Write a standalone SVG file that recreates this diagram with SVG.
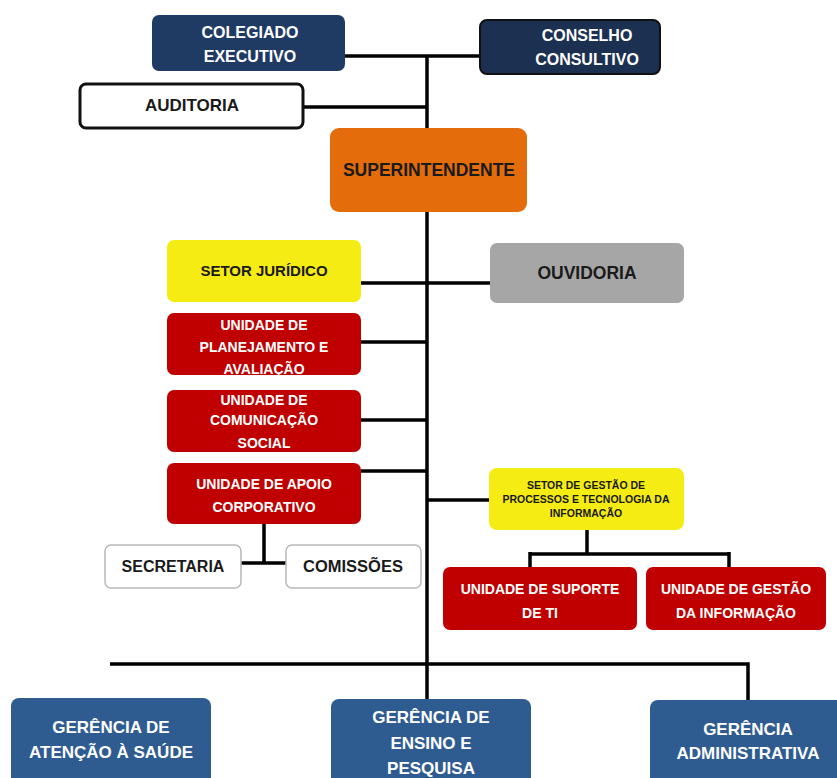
<svg xmlns="http://www.w3.org/2000/svg" width="837" height="778" viewBox="0 0 837 778">
<style>
.t{font-family:"Liberation Sans",Arial,sans-serif;font-weight:bold;text-anchor:middle;dominant-baseline:central}
.w{fill:#ffffff}
.d{fill:#1a1a1a}
.ln{stroke:#000;stroke-width:3.5;fill:none}
.navy{fill:#1f3b64}
.navy2{fill:#1c3151;stroke:#111;stroke-width:2}
.org{fill:#e46c0a}
.yel{fill:#f5ec14}
.gry{fill:#a6a6a6}
.red{fill:#c00000}
.blu{fill:#2f5c90}
.wb{fill:#fff;stroke:#111;stroke-width:3}
.lb{fill:#fff;stroke:#b8b8b8;stroke-width:1.5}
.rt{font-size:14px}
.bt{font-size:17px}
</style>
<rect width="837" height="778" fill="#ffffff"/>
<g id="connectors">
<path class="ln" d="M427 56 V700"/>
<path class="ln" d="M345 56 H480"/>
<path class="ln" d="M303 107 H427"/>
<path class="ln" d="M361 283 H490"/>
<path class="ln" d="M361 342 H427"/>
<path class="ln" d="M361 420 H427"/>
<path class="ln" d="M361 471 H427"/>
<path class="ln" d="M427 500 H489"/>
<path class="ln" d="M264 524 V563 M240 563 H287"/>
<path class="ln" d="M587 530 V554 M530 554 H729 M530 552 V568 M729 552 V568"/>
<path class="ln" d="M110 664 H748 V700"/>
</g>
<g id="colegiado">
<rect class="navy" x="152" y="15" width="193" height="56" rx="7"/>
<text class="t w" font-size="16" x="250" y="32">COLEGIADO</text>
<text class="t w" font-size="16" x="250" y="56">EXECUTIVO</text>
</g>
<g id="conselho">
<rect class="navy2" x="480" y="20" width="180" height="54" rx="7"/>
<text class="t w" font-size="16" x="587" y="35">CONSELHO</text>
<text class="t w" font-size="16" x="587" y="59">CONSULTIVO</text>
</g>
<g id="auditoria">
<rect class="wb" x="80" y="84" width="223" height="44" rx="6"/>
<text class="t d" font-size="17" x="192" y="105">AUDITORIA</text>
</g>
<g id="superintendente">
<rect class="org" x="330" y="128" width="197" height="84" rx="9"/>
<text class="t d" font-size="17.5" x="429" y="170">SUPERINTENDENTE</text>
</g>
<g id="juridico">
<rect class="yel" x="167" y="240" width="194" height="62" rx="7"/>
<text class="t d" font-size="15" x="264" y="270">SETOR JURÍDICO</text>
</g>
<g id="ouvidoria">
<rect class="gry" x="490" y="243" width="194" height="60" rx="7"/>
<text class="t d" font-size="17.5" x="587" y="273">OUVIDORIA</text>
</g>
<g id="planejamento">
<rect class="red" x="167" y="313" width="194" height="62" rx="7"/>
<text class="t w rt" x="264" y="325">UNIDADE DE</text>
<text class="t w rt" x="264" y="347">PLANEJAMENTO E</text>
<text class="t w rt" x="264" y="369">AVALIAÇÃO</text>
</g>
<g id="comunicacao">
<rect class="red" x="167" y="390" width="194" height="62" rx="7"/>
<text class="t w rt" x="264" y="400">UNIDADE DE</text>
<text class="t w rt" x="264" y="420">COMUNICAÇÃO</text>
<text class="t w rt" x="264" y="443">SOCIAL</text>
</g>
<g id="apoio">
<rect class="red" x="167" y="463" width="194" height="61" rx="7"/>
<text class="t w rt" x="264" y="484">UNIDADE DE APOIO</text>
<text class="t w rt" x="264" y="507">CORPORATIVO</text>
</g>
<g id="secretaria">
<rect class="lb" x="105" y="545" width="136" height="43" rx="6"/>
<text class="t d" font-size="16" x="173" y="566">SECRETARIA</text>
</g>
<g id="comissoes">
<rect class="lb" x="286" y="545" width="135" height="43" rx="6"/>
<text class="t d" font-size="16.5" x="353" y="566">COMISSÕES</text>
</g>
<g id="gestao-processos">
<rect class="yel" x="489" y="468" width="195" height="62" rx="8"/>
<text class="t d" font-size="10.5" x="586" y="485">SETOR DE GESTÃO DE</text>
<text class="t d" font-size="10.5" x="586" y="499">PROCESSOS E TECNOLOGIA DA</text>
<text class="t d" font-size="10.5" x="586" y="513">INFORMAÇÃO</text>
</g>
<g id="suporte-ti">
<rect class="red" x="443" y="567" width="194" height="63" rx="7"/>
<text class="t w rt" x="540" y="589">UNIDADE DE SUPORTE</text>
<text class="t w rt" x="540" y="613">DE TI</text>
</g>
<g id="gestao-informacao">
<rect class="red" x="646" y="567" width="180" height="63" rx="7"/>
<text class="t w rt" x="736" y="589">UNIDADE DE GESTÃO</text>
<text class="t w rt" x="736" y="613">DA INFORMAÇÃO</text>
</g>
<g id="atencao-saude">
<rect class="blu" x="11" y="698" width="200" height="90" rx="8"/>
<text class="t w bt" x="111" y="727">GERÊNCIA DE</text>
<text class="t w bt" x="111" y="752">ATENÇÃO À SAÚDE</text>
</g>
<g id="ensino-pesquisa">
<rect class="blu" x="331" y="699" width="200" height="90" rx="8"/>
<text class="t w bt" x="431" y="717">GERÊNCIA DE</text>
<text class="t w bt" x="431" y="743">ENSINO E</text>
<text class="t w bt" x="431" y="768">PESQUISA</text>
</g>
<g id="administrativa">
<rect class="blu" x="650" y="700" width="200" height="90" rx="8"/>
<text class="t w bt" x="748" y="729">GERÊNCIA</text>
<text class="t w bt" x="748" y="753">ADMINISTRATIVA</text>
</g>
</svg>
